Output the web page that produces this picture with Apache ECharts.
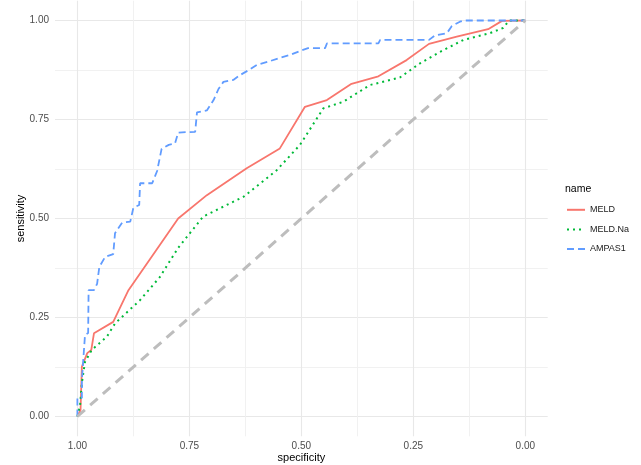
<!DOCTYPE html>
<html>
<head>
<meta charset="utf-8">
<script src="https://cdn.jsdelivr.net/npm/echarts@6/dist/echarts.min.js"></script>
<style>
html,body{margin:0;padding:0;background:#fff;}
#chart{width:641px;height:465px;}
</style>
</head>
<body>
<div id="chart"></div>
<script>
// Data (specificity, sensitivity)
const seriesNames = ['MELD', 'MELD.Na', 'AMPAS1'];
const meldSpec = [1.0, 0.993, 0.990, 0.978, 0.969, 0.963, 0.920, 0.886, 0.775, 0.711, 0.622, 0.548, 0.492, 0.443, 0.388, 0.328, 0.265, 0.215, 0.153, 0.139, 0.083, 0.052, 0.0];
const meldSens = [0.0, 0.016, 0.126, 0.160, 0.168, 0.210, 0.239, 0.319, 0.500, 0.559, 0.627, 0.677, 0.782, 0.799, 0.840, 0.859, 0.900, 0.941, 0.959, 0.963, 0.978, 0.999, 1.0];
const meldNaSpec = [1.0, 0.994, 0.990, 0.983, 0.968, 0.934, 0.916, 0.860, 0.816, 0.775, 0.719, 0.629, 0.555, 0.503, 0.451, 0.406, 0.347, 0.280, 0.235, 0.190, 0.138, 0.079, 0.050, 0.036, 0.0];
const meldNaSens = [0.0, 0.029, 0.085, 0.138, 0.168, 0.202, 0.235, 0.294, 0.352, 0.426, 0.505, 0.555, 0.622, 0.686, 0.778, 0.795, 0.837, 0.856, 0.892, 0.921, 0.951, 0.968, 0.981, 1.0, 1.0];
const ampasSpec = [1.0, 1.0, 0.990, 0.990, 0.986, 0.983, 0.976, 0.975, 0.963, 0.956, 0.951, 0.938, 0.920, 0.916, 0.900, 0.882, 0.875, 0.862, 0.860, 0.833, 0.822, 0.812, 0.796, 0.782, 0.775, 0.737, 0.733, 0.711, 0.696, 0.685, 0.674, 0.652, 0.637, 0.617, 0.599, 0.574, 0.550, 0.525, 0.501, 0.485, 0.447, 0.443, 0.328, 0.324, 0.215, 0.202, 0.175, 0.164, 0.146, 0.138, 0.0];
const ampasSens = [0.0, 0.047, 0.047, 0.092, 0.092, 0.206, 0.211, 0.319, 0.319, 0.335, 0.378, 0.403, 0.410, 0.463, 0.490, 0.492, 0.527, 0.534, 0.589, 0.589, 0.620, 0.676, 0.686, 0.690, 0.717, 0.719, 0.768, 0.773, 0.799, 0.827, 0.845, 0.850, 0.862, 0.875, 0.888, 0.896, 0.905, 0.913, 0.924, 0.930, 0.930, 0.942, 0.942, 0.951, 0.951, 0.962, 0.968, 0.986, 0.997, 1.0, 1.0];
const diagSpec = [1.0, 0.0];
const diagSens = [0.0, 1.0];
const majorTicks = [0, 0.25, 0.5, 0.75, 1.0];
const minorTicks = [0.125, 0.375, 0.625, 0.875];

const pairs = (xs, ys) => xs.map((x, i) => [x, ys[i]]);

const chart = echarts.init(document.getElementById('chart'), null, {renderer: 'canvas'});

const FONT = 'Liberation Sans, Arial, sans-serif';
const axisCommon = {
  type: 'value', min: -0.05, max: 1.05,
  axisLine: {show: false, onZero: false},
  axisTick: {show: false}
};
const gridBox = {left: 55, right: 93.3, top: 0.7, bottom: 28.7, containLabel: false, outerBoundsMode: 'none'};

const option = {
  backgroundColor: '#ffffff',
  animation: false,
  title: {
    text: 'name', left: 565, top: 184, padding: 0,
    textStyle: {fontSize: 10.5, fontWeight: 'normal', color: '#000', fontFamily: FONT}
  },
  legend: {
    data: seriesNames,
    orient: 'vertical', left: 566, top: 205,
    itemWidth: 18, itemHeight: 12, itemGap: 10, padding: 0,
    itemStyle: {opacity: 0},
    textStyle: {fontSize: 9, color: '#1a1a1a', fontFamily: FONT}
  },
  grid: [Object.assign({}, gridBox), Object.assign({}, gridBox)],
  xAxis: [
    Object.assign({}, axisCommon, {
      gridIndex: 0, inverse: true,
      name: 'specificity', nameLocation: 'middle', nameGap: 16, nameMoveOverlap: false,
      nameTextStyle: {fontSize: 11, color: '#000', fontFamily: FONT},
      axisTick: {show: false, customValues: majorTicks},
      axisLabel: {customValues: majorTicks, fontSize: 10, color: '#4d4d4d', margin: 5,
        fontFamily: FONT, formatter: v => v.toFixed(2)},
      splitLine: {show: true, lineStyle: {color: '#e8e8e8', width: 1.1}}
    }),
    Object.assign({}, axisCommon, {
      gridIndex: 1, inverse: true,
      axisTick: {show: false, customValues: minorTicks},
      axisLabel: {show: false, customValues: minorTicks},
      splitLine: {show: true, lineStyle: {color: '#efefef', width: 0.9}}
    })
  ],
  yAxis: [
    Object.assign({}, axisCommon, {
      gridIndex: 0,
      name: 'sensitivity', nameLocation: 'middle', nameGap: 28.5, nameRotate: 90, nameMoveOverlap: false,
      nameTextStyle: {fontSize: 11, color: '#000', fontFamily: FONT},
      axisTick: {show: false, customValues: majorTicks},
      axisLabel: {customValues: majorTicks, fontSize: 10, color: '#4d4d4d', margin: 6,
        fontFamily: FONT, formatter: v => v.toFixed(2)},
      splitLine: {show: true, lineStyle: {color: '#e8e8e8', width: 1.1}}
    }),
    Object.assign({}, axisCommon, {
      gridIndex: 1,
      axisTick: {show: false, customValues: minorTicks},
      axisLabel: {show: false, customValues: minorTicks},
      splitLine: {show: true, lineStyle: {color: '#efefef', width: 0.9}}
    })
  ],
  series: [
    {
      name: 'MELD', type: 'line', xAxisIndex: 0, yAxisIndex: 0,
      data: pairs(meldSpec, meldSens), symbol: 'none', z: 3,
      itemStyle: {color: '#F8766D'},
      lineStyle: {color: '#F8766D', width: 1.8, type: 'solid'}
    },
    {
      name: 'MELD.Na', type: 'line', xAxisIndex: 0, yAxisIndex: 0,
      data: pairs(meldNaSpec, meldNaSens), symbol: 'none', z: 3,
      itemStyle: {color: '#00BA38'},
      lineStyle: {color: '#00BA38', width: 2, type: [2, 4]}
    },
    {
      name: 'AMPAS1', type: 'line', xAxisIndex: 0, yAxisIndex: 0,
      data: pairs(ampasSpec, ampasSens), symbol: 'none', z: 3,
      itemStyle: {color: '#619CFF'},
      lineStyle: {color: '#619CFF', width: 1.8, type: [7, 4]}
    },
    {
      name: 'diag', type: 'line', xAxisIndex: 0, yAxisIndex: 0,
      data: pairs(diagSpec, diagSens), symbol: 'none', z: 4,
      lineStyle: {color: '#bdbdbd', width: 3, type: [10, 7]},
      silent: true
    }
  ]
};
chart.setOption(option);
</script>
</body>
</html>
